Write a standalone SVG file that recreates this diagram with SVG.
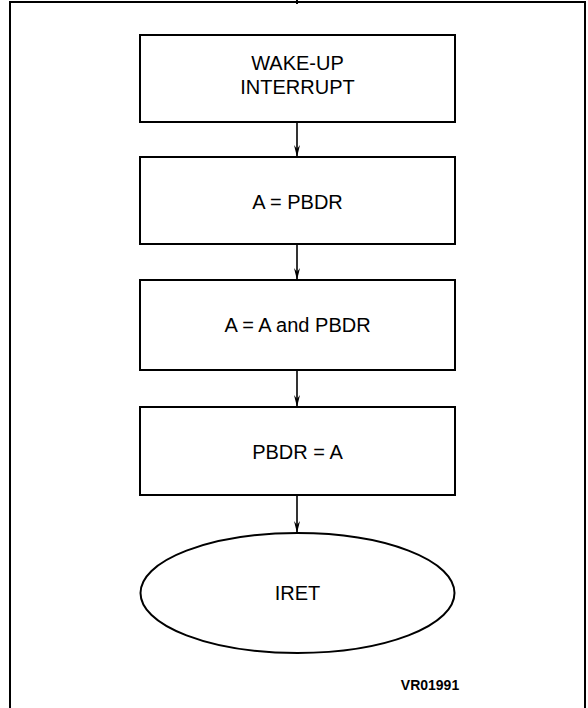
<svg xmlns="http://www.w3.org/2000/svg" width="588" height="708" viewBox="0 0 588 708">
<style>
.box{fill:#fff;stroke:#000;stroke-width:2}
.lbl{font-family:"Liberation Sans",Arial,sans-serif;font-size:20px;fill:#000;text-anchor:middle}
.conn{stroke:#000;stroke-width:1.6;fill:none;marker-end:url(#ah)}
.frame{stroke:#000;stroke-width:2;fill:none}
</style>
<defs>
<marker id="ah" markerWidth="12" markerHeight="6" refX="12" refY="3" orient="auto" markerUnits="userSpaceOnUse" viewBox="0 0 12 6">
<path d="M0,0 L12,3 L0,6 L4,3 Z" fill="#000"/>
</marker>
</defs>
<rect width="588" height="708" fill="#fff"/>
<path class="frame" d="M10,708 V2 H585 V708"/>
<line x1="297" y1="0" x2="297" y2="4" stroke="#000" stroke-width="2"/>
<g id="n1"><rect class="box" x="140" y="35" width="315" height="87"/>
<text class="lbl" x="297.5" y="70">WAKE-UP</text><text class="lbl" x="297.5" y="94">INTERRUPT</text></g>
<g id="n2"><rect class="box" x="140" y="157" width="315" height="87"/>
<text class="lbl" x="297.5" y="209">A = PBDR</text></g>
<g id="n3"><rect class="box" x="140" y="280" width="315" height="90"/>
<text class="lbl" x="297.5" y="332">A = A and PBDR</text></g>
<g id="n4"><rect class="box" x="140" y="407" width="315" height="88"/>
<text class="lbl" x="297.5" y="459">PBDR = A</text></g>
<g id="n5"><ellipse class="box" cx="297.5" cy="593" rx="157" ry="60"/>
<text class="lbl" x="297.5" y="600">IRET</text></g>
<g id="note"><text x="430" y="690" style="font-family:'Liberation Sans',Arial,sans-serif;font-size:14px;font-weight:bold;text-anchor:middle">VR01991</text></g>
<g id="connectors">
<line class="conn" x1="297" y1="122" x2="297" y2="157"/>
<line class="conn" x1="297" y1="244" x2="297" y2="280"/>
<line class="conn" x1="297" y1="370" x2="297" y2="407"/>
<line class="conn" x1="297" y1="495" x2="297" y2="533"/>
</g>
</svg>
